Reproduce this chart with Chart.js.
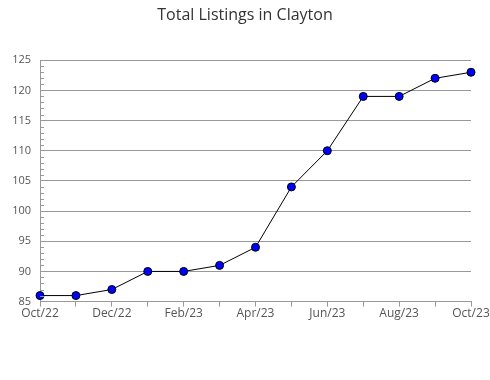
<!DOCTYPE html>
<html>
<head>
<meta charset="utf-8">
<script src="https://cdn.jsdelivr.net/npm/chart.js@4"></script>
<style>
  html, body { margin: 0; padding: 0; background: #fff; }
  #wrap { width: 490px; height: 380px; }
</style>
</head>
<body>
<div id="wrap"><canvas id="grafico" width="490" height="380"></canvas></div>
<script>
// dados do grafico
const meses = ['Oct/22', 'Nov/22', 'Dec/22', 'Jan/23', 'Feb/23', 'Mar/23', 'Apr/23',
               'May/23', 'Jun/23', 'Jul/23', 'Aug/23', 'Sep/23', 'Oct/23'];
const listagens = [86, 86, 87, 90, 90, 91, 94, 104, 110, 119, 119, 122, 123];
const titulo = 'Total Listings in Clayton';

const FONTE = "'Open Sans', 'DejaVu Sans', sans-serif";
const CINZA = '#999999';

// marcas pequenas no eixo y (uma por unidade)
const marcasMenores = {
  id: 'marcasMenores',
  afterDraw(chart) {
    const y = chart.scales.y;
    const ctx = chart.ctx;
    ctx.save();
    ctx.strokeStyle = CINZA;
    ctx.lineWidth = 1;
    for (let v = y.min; v <= y.max; v++) {
      if (v % 5 === 0) continue;
      const py = Math.round(y.getPixelForValue(v)) + 0.5;
      ctx.beginPath();
      ctx.moveTo(y.right, py);
      ctx.lineTo(y.right + 4, py);
      ctx.stroke();
    }
    ctx.restore();
  }
};

new Chart(document.getElementById('grafico').getContext('2d'), {
  type: 'line',
  data: {
    labels: meses,
    datasets: [{
      data: listagens,
      borderColor: '#000000',
      borderWidth: 1,
      backgroundColor: '#0000ff',
      pointBackgroundColor: '#0000ff',
      pointBorderColor: '#000000',
      pointBorderWidth: 1,
      pointRadius: 4,
      tension: 0,
      fill: false
    }]
  },
  options: {
    responsive: false,
    animation: false,
    layout: { padding: { left: 0, right: 0, top: 0, bottom: 59 } },
    plugins: {
      legend: { display: false },
      tooltip: { enabled: false },
      title: {
        display: true,
        text: titulo,
        color: '#333333',
        font: { family: FONTE, size: 16, weight: 'normal' },
        padding: { top: 6, bottom: 35 }
      }
    },
    scales: {
      x: {
        offset: false,
        grid: { display: true, drawOnChartArea: false, drawTicks: true, tickLength: 5, color: CINZA },
        border: { color: CINZA },
        ticks: {
          color: '#555555',
          font: { family: FONTE, size: 12 },
          autoSkip: false,
          maxRotation: 0,
          padding: 0,
          callback: (v, i) => i % 2 === 0 ? meses[i] : ''
        }
      },
      y: {
        min: 85,
        max: 125,
        afterFit: s => { s.width = 40; },
        grid: { color: CINZA, drawTicks: false },
        border: { color: CINZA },
        ticks: {
          stepSize: 5,
          color: '#555555',
          font: { family: FONTE, size: 11 },
          padding: 9
        }
      },
      // eixo vazio so para reservar a margem da direita
      margemDireita: {
        type: 'linear',
        position: 'right',
        display: true,
        grid: { display: false },
        border: { display: false },
        ticks: { display: false },
        afterFit: s => { s.width = 19; }
      }
    }
  },
  plugins: [marcasMenores]
});
</script>
</body>
</html>
